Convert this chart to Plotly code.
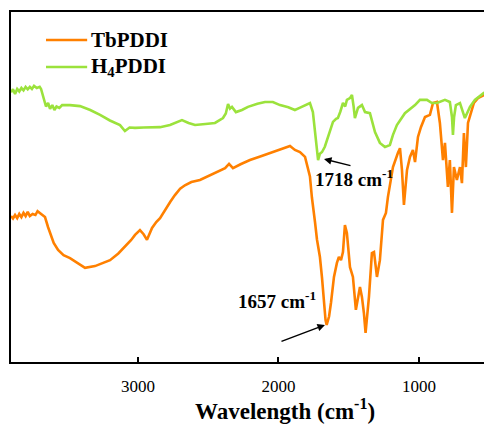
import plotly.graph_objects as go

# H4PDDI (green) spectrum: wavenumber (cm-1) and transmittance (a.u.)
h4_wn = [3904, 3890, 3875, 3860, 3845, 3830, 3815, 3800, 3785, 3770, 3755, 3740, 3720, 3700,
         3690, 3670, 3655, 3640, 3626, 3610, 3595, 3580, 3560, 3540, 3520, 3484, 3413, 3340,
         3270, 3200, 3128, 3093, 3060, 3021, 2960, 2915, 2843, 2772, 2720, 2687, 2640, 2594,
         2520, 2452, 2395, 2375, 2359, 2345, 2331, 2303, 2260, 2217, 2150, 2096, 2040, 1989,
         1930, 1883, 1850, 1811, 1776, 1755, 1740, 1728, 1718, 1705, 1690, 1670, 1655, 1635,
         1612, 1590, 1577, 1560, 1541, 1525, 1513, 1491, 1477, 1465, 1456, 1434, 1406, 1384,
         1349, 1313, 1278, 1242, 1207, 1185, 1157, 1100, 1028, 993, 943, 908, 872, 815, 780,
         765, 758, 750, 737, 708, 673, 637, 602, 538, 500]
h4_t = [77.1, 77.9, 76.6, 78.0, 77.3, 78.3, 77.6, 78.6, 77.9, 78.6, 78.0, 78.9, 78.3, 78.6,
        78.0, 75.5, 73.0, 74.0, 72.3, 73.4, 72.0, 73.0, 72.6, 73.4, 73.4, 73.4, 73.1, 72.0,
        70.6, 69.0, 67.7, 66.0, 67.0, 66.9, 67.0, 67.1, 67.1, 67.7, 68.6, 69.1, 68.3, 67.7,
        68.0, 68.3, 69.7, 71.0, 73.7, 72.4, 72.9, 71.4, 72.0, 72.9, 73.8, 74.3, 74.3, 73.4,
        72.8, 72.0, 72.6, 73.4, 74.0, 71.4, 66.3, 61.0, 57.7, 59.5, 60.0, 61.5, 63.4, 66.0,
        68.6, 69.5, 69.7, 71.5, 74.0, 73.0, 74.9, 75.4, 76.3, 73.0, 69.7, 72.6, 73.4, 71.4,
        71.1, 65.7, 62.6, 61.4, 62.0, 64.9, 67.7, 71.1, 73.4, 74.9, 74.9, 74.0, 74.0, 74.9,
        74.3, 70.0, 64.9, 70.0, 73.4, 74.0, 69.7, 72.9, 74.9, 76.9, 77.5]

# TbPDDI (orange) spectrum
tb_wn = [3904, 3890, 3875, 3860, 3845, 3830, 3815, 3800, 3785, 3770, 3750, 3730, 3715, 3700,
         3680, 3662, 3640, 3626, 3600, 3569, 3530, 3484, 3430, 3377, 3306, 3250, 3199, 3140,
         3093, 3050, 3021, 2986, 2960, 2936, 2900, 2870, 2843, 2808, 2770, 2737, 2700, 2666,
         2620, 2559, 2488, 2430, 2380, 2352, 2324, 2270, 2203, 2130, 2061, 2000, 1954, 1918,
         1883, 1847, 1811, 1790, 1776, 1762, 1755, 1740, 1726, 1705, 1690, 1676, 1665, 1657,
         1640, 1626, 1605, 1584, 1570, 1555, 1541, 1527, 1513, 1491, 1470, 1449, 1434, 1420,
         1406, 1392, 1380, 1356, 1335, 1320, 1299, 1278, 1256, 1235, 1221, 1185, 1150, 1135,
         1121, 1107, 1085, 1064, 1043, 1028, 1007, 986, 957, 922, 900, 872, 851, 829, 815,
         794, 780, 765, 751, 730, 708, 694, 680, 666, 651, 630, 609, 580, 538, 500]
tb_t = [41.7, 41.0, 42.0, 41.1, 42.3, 41.4, 42.6, 41.7, 42.9, 41.7, 42.3, 42.0, 43.1, 42.6,
        42.0, 41.4, 38.5, 36.9, 34.0, 32.0, 30.5, 29.7, 28.3, 26.9, 27.4, 28.3, 29.1, 31.0,
        32.9, 34.8, 36.3, 37.7, 36.5, 34.9, 38.3, 40.0, 41.1, 43.5, 45.8, 47.7, 49.5, 50.5,
        51.4, 52.0, 53.4, 54.5, 55.4, 56.6, 55.4, 56.5, 57.7, 58.7, 59.7, 60.5, 61.1, 61.7,
        60.6, 60.0, 58.6, 55.4, 53.0, 47.0, 45.0, 40.0, 35.0, 30.0, 24.0, 17.0, 12.0, 10.6,
        13.0, 17.0, 24.3, 28.3, 30.0, 29.1, 31.4, 39.1, 36.9, 27.1, 24.3, 14.9, 19.0, 21.4,
        18.6, 14.0, 8.3, 18.6, 31.1, 31.4, 24.3, 29.1, 40.6, 42.6, 47.1, 55.7, 59.7, 61.1,
        54.9, 44.9, 54.9, 58.6, 60.6, 57.1, 64.3, 67.1, 70.0, 70.6, 74.0, 74.3, 68.3, 57.7,
        62.6, 50.0, 57.7, 42.6, 55.7, 52.0, 55.7, 51.1, 65.4, 55.7, 68.3, 71.1, 74.0, 75.4,
        76.3, 77.0]

x_ticks = [3000, 2000, 1000]

ORANGE = "#ff8000"
GREEN = "#9be23c"
FONT = "Liberation Serif"

fig = go.Figure()
fig.add_trace(go.Scatter(x=tb_wn, y=tb_t, mode="lines", name="TbPDDI",
                         line=dict(color=ORANGE, width=2.6), showlegend=False))
fig.add_trace(go.Scatter(x=h4_wn, y=h4_t, mode="lines", name="H<sub>4</sub>PDDI",
                         line=dict(color=GREEN, width=2.6), showlegend=False))

# custom legend
legend_items = [("TbPDDI", ORANGE, 0.92), ("H<sub>4</sub>PDDI", GREEN, 0.843)]
for text, col, yp in legend_items:
    fig.add_shape(type="line", xref="paper", yref="paper", x0=0.074, x1=0.161, y0=yp, y1=yp,
                  line=dict(color=col, width=2.6))
    fig.add_annotation(text=f"<b>{text}</b>", xref="paper", yref="paper", x=0.165, y=yp,
                       xanchor="left", yanchor="middle", showarrow=False,
                       font=dict(family=FONT, size=21, color="black"))

# peak labels
fig.add_annotation(text="<b>1718 cm<sup>-1</sup></b>", x=1463, y=52.6, xref="x", yref="y",
                   showarrow=False, font=dict(family=FONT, size=19, color="black"))
fig.add_annotation(text="", x=1676, y=58.0, ax=28, ay=7, xref="x", yref="y",
                   showarrow=True, arrowhead=2, arrowsize=1, arrowwidth=1.5, arrowcolor="black")
fig.add_annotation(text="<b>1657 cm<sup>-1</sup></b>", x=2011, y=17.7, xref="x", yref="y",
                   showarrow=False, font=dict(family=FONT, size=19, color="black"))
fig.add_annotation(text="", x=1669, y=10.6, ax=-45, ay=17, xref="x", yref="y",
                   showarrow=True, arrowhead=2, arrowsize=1, arrowwidth=1.5, arrowcolor="black")

# x axis title
fig.add_annotation(text="<b>Wavelength (cm<sup>-1</sup>)</b>", xref="paper", yref="paper",
                   x=0.579, y=-0.137, xanchor="center", yanchor="middle", showarrow=False,
                   font=dict(family=FONT, size=23, color="black"))

fig.update_xaxes(range=[3904, 537], tickvals=x_ticks, ticks="inside", ticklen=5, tickwidth=1.5,
                 tickcolor="black", showline=True, linecolor="black", linewidth=2, mirror=True,
                 showgrid=False, zeroline=False, ticklabelstandoff=8,
                 tickfont=dict(family=FONT, size=17, color="black"))
fig.update_yaxes(range=[0, 100], showticklabels=False, ticks="", showline=True,
                 linecolor="black", linewidth=2, mirror=False, showgrid=False, zeroline=False)

fig.update_layout(width=484, height=425, margin=dict(l=11, r=0, t=12, b=63),
                  plot_bgcolor="white", paper_bgcolor="white", showlegend=False)

fig.write_html("out.html", config={"displayModeBar": False},
               post_script="document.body.style.margin='0px';")
